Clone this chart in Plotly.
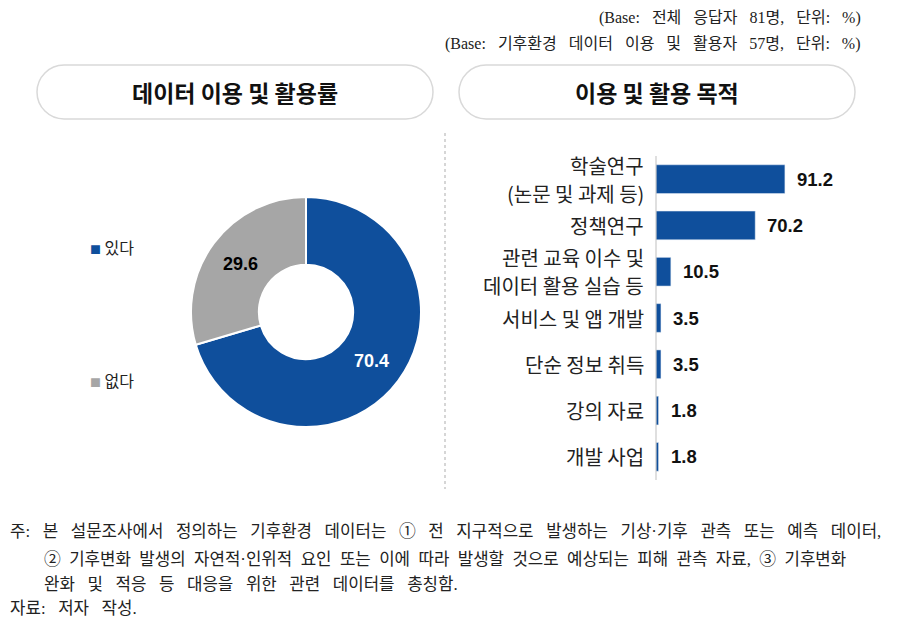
import plotly.graph_objects as go

W, H = 906, 626

# ---- data ----
pie_labels = ["있다", "없다"]
pie_values = [70.4, 29.6]

bar_categories = [
    "학술연구<br>(논문 및 과제 등)",
    "정책연구",
    "관련 교육 이수 및<br>데이터 활용 실습 등",
    "서비스 및 앱 개발",
    "단순 정보 취득",
    "강의 자료",
    "개발 사업",
]
bar_values = [91.2, 70.2, 10.5, 3.5, 3.5, 1.8, 1.8]

base_notes = [
    "(Base: 전체 응답자 81명, 단위: %)",
    "(Base: 기후환경 데이터 이용 및 활용자 57명, 단위: %)",
]
panel_titles = ["데이터 이용 및 활용률", "이용 및 활용 목적"]
foot_lines = [
    "주: 본 설문조사에서 정의하는 기후환경 데이터는 ① 전 지구적으로 발생하는 기상·기후 관측 또는 예측 데이터,",
    "② 기후변화 발생의 자연적·인위적 요인 또는 이에 따라 발생할 것으로 예상되는 피해 관측 자료, ③ 기후변화",
    "완화 및 적응 등 대응을 위한 관련 데이터를 총칭함.",
    "자료: 저자 작성.",
]

BLUE = "#0f4f9c"
GRAY = "#a6a6a6"
SANS = "Liberation Sans, Arial, Noto Sans CJK KR, sans-serif"
KSANS = "Noto Sans CJK KR, sans-serif"
SERIF = "Liberation Serif, DejaVu Serif, Noto Sans CJK KR, serif"


def px(x):
    return x / W


def py(y):
    return 1 - y / H


def wide(t, n=2):
    # widen word gaps to mimic the wide-spaced (justified) serif original
    return t.replace(" ", " " + "&nbsp;" * n)


fig = go.Figure()

# donut
cx, cy, r = 306, 312, 115
fig.add_trace(go.Pie(
    labels=pie_labels, values=pie_values,
    hole=0.41, sort=False, direction="clockwise", rotation=0,
    marker=dict(colors=[BLUE, GRAY], line=dict(color="white", width=2)),
    textinfo="none", showlegend=False, hoverinfo="label+value",
    domain=dict(x=[px(cx - r), px(cx + r)], y=[py(cy + r), py(cy - r)]),
))

# donut value labels
pie_label_pos = [(371, 361, "white"), (240, 264, "black")]
for v, (lx, ly, col) in zip(pie_values, pie_label_pos):
    fig.add_annotation(x=px(lx), y=py(ly), xref="paper", yref="paper",
                       xanchor="center", yanchor="middle",
                       text=f"<b>{v}</b>", showarrow=False,
                       font=dict(family=SANS, size=18, color=col))

# legend (manual)
for lab, col, ly in zip(pie_labels, [BLUE, GRAY], [247, 380]):
    fig.add_annotation(x=px(88), y=py(ly), xref="paper", yref="paper",
                       xanchor="left", yanchor="middle", showarrow=False,
                       text=f"<span style='color:{col};font-size:11px'>■</span> {lab}",
                       font=dict(family=KSANS, size=16, color="#222"))

# bars
fig.add_trace(go.Bar(
    x=bar_values, y=bar_categories, orientation="h",
    marker=dict(color=BLUE), width=0.62, showlegend=False,
    xaxis="x", yaxis="y", hoverinfo="x+y",
))
for v, c in zip(bar_values, bar_categories):
    fig.add_annotation(x=v, y=c, xref="x", yref="y", xanchor="left",
                       yanchor="middle", xshift=10, showarrow=False,
                       text=f"<b>{v}</b>",
                       font=dict(family=SANS, size=18.5, color="#111"))

# category labels (one text per line, for the tight line spacing)
for c in bar_categories:
    parts = c.split("<br>")
    n = len(parts)
    for i, part in enumerate(parts):
        fig.add_annotation(x=px(646), y=c, xref="paper", yref="y",
                           xanchor="right", yanchor="middle",
                           yshift=(n - 1) / 2 * 28 - i * 28,
                           showarrow=False, text=part,
                           font=dict(family=KSANS, size=20, color="#222"))

fig.update_layout(
    width=W, height=H,
    margin=dict(l=0, r=0, t=0, b=0),
    paper_bgcolor="white", plot_bgcolor="white",
    bargap=0.38,
    xaxis=dict(domain=[px(656), px(856)], range=[0, 141.5], visible=False,
               fixedrange=True),
    yaxis=dict(domain=[py(480), py(156)], categoryorder="array",
               categoryarray=bar_categories[::-1], autorange=False,
               range=[-0.5, 6.5], showline=False, ticks="", showgrid=False,
               showticklabels=False, fixedrange=True),
)
fig.add_shape(type="line", xref="paper", yref="paper",
              x0=px(656), x1=px(656), y0=py(480), y1=py(156),
              line=dict(color="#bfbfbf", width=1))

# base notes
for t, ly in zip(base_notes, [18, 44]):
    fig.add_annotation(x=px(863), y=py(ly), xref="paper", yref="paper",
                       xanchor="right", yanchor="middle", showarrow=False,
                       text=wide(t), font=dict(family=SERIF, size=16, color="#222"))


# pill title boxes
def pill(x0, y0, x1, y1, rr):
    k = 0.5523 * rr
    pts = [
        f"M{px(x0 + rr)},{py(y0)}",
        f"L{px(x1 - rr)},{py(y0)}",
        f"C{px(x1 - rr + k)},{py(y0)} {px(x1)},{py(y0 + rr - k)} {px(x1)},{py(y0 + rr)}",
        f"L{px(x1)},{py(y1 - rr)}",
        f"C{px(x1)},{py(y1 - rr + k)} {px(x1 - rr + k)},{py(y1)} {px(x1 - rr)},{py(y1)}",
        f"L{px(x0 + rr)},{py(y1)}",
        f"C{px(x0 + rr - k)},{py(y1)} {px(x0)},{py(y1 - rr + k)} {px(x0)},{py(y1 - rr)}",
        f"L{px(x0)},{py(y0 + rr)}",
        f"C{px(x0)},{py(y0 + rr - k)} {px(x0 + rr - k)},{py(y0)} {px(x0 + rr)},{py(y0)}",
        "Z",
    ]
    return " ".join(pts)


for (x0, x1), title in zip([(37, 433), (459, 855)], panel_titles):
    fig.add_shape(type="path", xref="paper", yref="paper",
                  path=pill(x0, 65, x1, 119, 27),
                  line=dict(color="#d9d9d9", width=1.5), fillcolor="white",
                  layer="below")
    fig.add_annotation(x=px((x0 + x1) / 2), y=py(92), xref="paper",
                       yref="paper", xanchor="center", yanchor="middle",
                       showarrow=False, text=f"<b>{title}</b>",
                       font=dict(family=KSANS, size=23, color="#111"))

# dashed separator
fig.add_shape(type="line", xref="paper", yref="paper",
              x0=px(445), x1=px(445), y0=py(133), y1=py(489),
              line=dict(color="#bbbbbb", width=1.2, dash="3px,3px"))

# footnotes
foot_pos = [(8, 531), (42, 559), (42, 584), (8, 608)]
foot_gap = [2, 1, 2, 2]
for t, (lx, ly), g in zip(foot_lines, foot_pos, foot_gap):
    fig.add_annotation(x=px(lx), y=py(ly), xref="paper", yref="paper",
                       xanchor="left", yanchor="middle", showarrow=False,
                       text=wide(t, g),
                       font=dict(family=SERIF, size=16.8, color="#222"))

fig.write_html("out.html", config={"displayModeBar": False},
               post_script="document.body.style.margin='0';")
